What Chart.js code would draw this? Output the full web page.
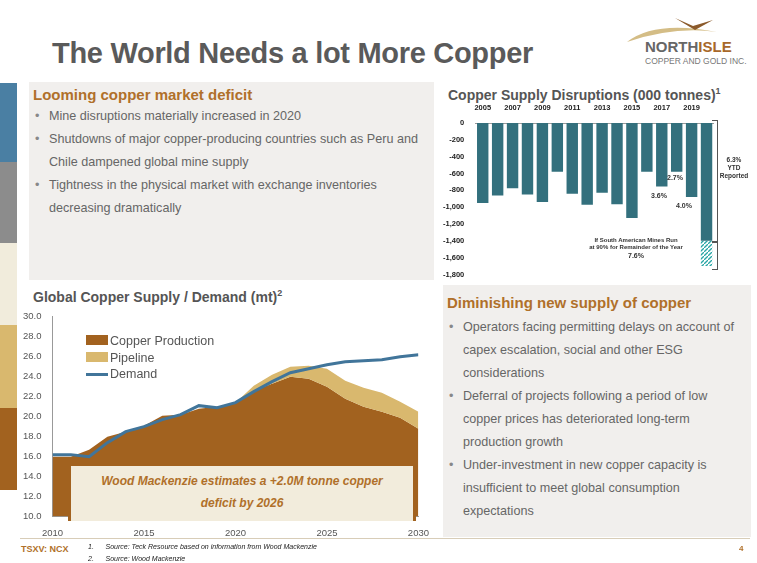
<!DOCTYPE html>
<html><head><meta charset="utf-8">
<script src="https://cdn.jsdelivr.net/npm/chart.js@4"></script>
<style>
body{margin:0;width:757px;height:563px;position:relative;background:#fff;font-family:Arial,"Liberation Sans",sans-serif;overflow:hidden}
.abs{position:absolute}
.panel{background:#f1efed}
.h2{color:#b0702a;font-weight:bold;font-size:15px}
ul{margin:0;padding:0;list-style:none}
li{position:relative;padding-left:16px;color:#666;font-size:12.6px;line-height:23px}
li:before{content:"•";position:absolute;left:2px;color:#888}
</style></head><body>
<div class="abs" style="left:0;top:83px;width:17px;height:79px;background:#4a7fa3"></div>
<div class="abs" style="left:0;top:162px;width:17px;height:81px;background:#8c8c8c"></div>
<div class="abs" style="left:0;top:243px;width:17px;height:82px;background:#f1ecdc"></div>
<div class="abs" style="left:0;top:325px;width:17px;height:83px;background:#d9b86e"></div>
<div class="abs" style="left:0;top:408px;width:17px;height:82px;background:#a2621f"></div>

<div class="abs" style="left:52px;top:37px;font-size:29px;font-weight:bold;color:#5a5a5a;letter-spacing:-0.3px">The World Needs a lot More Copper</div>
<svg class="abs" style="left:625px;top:12px" width="95" height="32"><path d="M2 30 Q30 8 92 20 Q50 14 2 30Z" fill="#d4bd86"/><path d="M50 6 L68 14 L88 8 L70 18Z" fill="#8b5a2b"/></svg>
<div class="abs" style="left:645px;top:38px;font-size:15px;font-weight:bold;color:#666">NORTH<span style="color:#a8682a">ISLE</span></div>
<div class="abs" style="left:645px;top:56px;font-size:8.5px;color:#777">COPPER AND GOLD INC.</div>

<div class="abs panel" style="left:29px;top:82px;width:405px;height:198px"></div>
<div class="abs h2" style="left:33px;top:86px">Looming copper market deficit</div>
<ul class="abs" style="left:33px;top:105px;width:395px">
<li>Mine disruptions materially increased in 2020</li>
<li>Shutdowns of major copper-producing countries such as Peru and Chile dampened global mine supply</li>
<li>Tightness in the physical market with exchange inventories decreasing dramatically</li>
</ul>

<div class="abs panel" style="left:443px;top:285px;width:308px;height:252px"></div>
<div class="abs h2" style="left:447px;top:294px">Diminishing new supply of copper</div>
<ul class="abs" style="left:447px;top:316px;width:300px">
<li>Operators facing permitting delays on account of capex escalation, social and other ESG considerations</li>
<li>Deferral of projects following a period of low copper prices has deteriorated long-term production growth</li>
<li>Under-investment in new copper capacity is insufficient to meet global consumption expectations</li>
</ul>

<div class="abs" style="left:448px;top:86px;font-size:14px;font-weight:bold;color:#555">Copper Supply Disruptions (000 tonnes)<sup style="font-size:9px">1</sup></div>
<div class="abs" style="left:440px;top:100px;width:274px;height:182px"><canvas id="bars"></canvas></div>
<div class="abs" style="left:712px;top:120px;width:5px;height:121px;border:1px solid #555;border-left:none"></div>
<div class="abs" style="left:712px;top:241px;width:5px;height:27px;border:1px solid #555;border-left:none"></div>
<div class="abs" style="left:712px;top:156px;width:44px;text-align:center;font-size:6.5px;font-weight:bold;color:#333;line-height:8px">6.3%<br>YTD<br>Reported</div>
<div class="abs" style="left:667px;top:174px;font-size:7px;font-weight:bold;color:#333">2.7%</div>
<div class="abs" style="left:651px;top:192px;font-size:7px;font-weight:bold;color:#333">3.6%</div>
<div class="abs" style="left:676px;top:202px;font-size:7px;font-weight:bold;color:#333">4.0%</div>
<div class="abs" style="left:576px;top:237px;width:120px;text-align:center;font-size:6px;font-weight:bold;color:#333;line-height:7px">If South American Mines Run<br>at 90% for Remainder of the Year<br><span style="font-size:7px;line-height:10px">7.6%</span></div>

<div class="abs" style="left:33px;top:288px;font-size:14px;font-weight:bold;color:#555">Global Copper Supply / Demand (mt)<sup style="font-size:9px">2</sup></div>
<div class="abs" style="left:20px;top:308px;width:412px;height:234px"><canvas id="area"></canvas></div>
<div class="abs" style="left:86px;top:333px;font-size:12.5px;color:#555;line-height:16.5px">
<div><span style="display:inline-block;width:22px;height:10px;background:#a2621f;margin-right:2px"></span>Copper Production</div>
<div><span style="display:inline-block;width:22px;height:10px;background:#d9b86e;margin-right:2px"></span>Pipeline</div>
<div><span style="display:inline-block;width:22px;height:3px;background:#41759a;vertical-align:middle;margin-right:2px"></span>Demand</div>
</div>
<div class="abs" style="left:68px;top:463px;width:342px;height:51px;background:#f2ecdc;border:3px solid #a2621f;border-bottom:none;text-align:center;font-size:12px;font-weight:bold;font-style:italic;color:#b0702a;line-height:22px;padding-top:4px">Wood Mackenzie estimates a +2.0M tonne copper<br>deficit by 2026</div>

<div class="abs" style="left:20px;top:538px;width:730px;border-top:1px solid #d8cdb8"></div>
<div class="abs" style="left:21px;top:544px;font-size:9px;font-weight:bold;color:#b0702a">TSXV: NCX</div>
<div class="abs" style="left:88px;top:541px;font-size:7px;font-style:italic;color:#222;line-height:12px">1.&nbsp;&nbsp;&nbsp;&nbsp;&nbsp;&nbsp;Source: Teck Resource based on information from Wood Mackenzie<br>2.&nbsp;&nbsp;&nbsp;&nbsp;&nbsp;&nbsp;Source: Wood Mackenzie</div>
<div class="abs" style="left:739px;top:544px;font-size:8px;font-weight:bold;color:#b0702a">4</div>

<script>
const years = ['2005','2006','2007','2008','2009','2010','2011','2012','2013','2014','2015','2016','2017','2018','2019','2020'];
const disruptions = [-950,-860,-775,-850,-940,-580,-840,-970,-830,-965,-1130,-580,-755,-580,-880,-1400];
const potentialExtra = [0,0,0,0,0,0,0,0,0,0,0,0,0,0,0,-300];

const supplyYears = [2010,2011,2012,2013,2014,2015,2016,2017,2018,2019,2020,2021,2022,2023,2024,2025,2026,2027,2028,2029,2030];
const production = [16.0,16.0,16.7,18.0,18.5,19.1,20.1,20.2,20.8,21.0,21.4,22.6,23.3,24.0,23.8,23.0,21.8,21.0,20.5,19.9,18.8];
const pipelineTop = [16.0,16.0,16.7,18.0,18.5,19.1,20.1,20.2,20.8,21.0,21.4,23.1,24.2,25.0,25.1,24.8,23.6,22.9,22.4,21.5,20.5];
const demand = [16.2,16.2,16.0,17.4,18.5,19.0,19.7,20.2,21.1,20.9,21.4,22.5,23.5,24.4,24.8,25.2,25.5,25.6,25.7,26.0,26.2];

function hatch() {
    const c = document.createElement('canvas'); c.width = 4; c.height = 4;
    const g = c.getContext('2d');
    g.strokeStyle = '#2aa6a6'; g.lineWidth = 1.3;
    g.beginPath(); g.moveTo(0,4); g.lineTo(4,0); g.stroke();
    return g.createPattern(c, 'repeat');
}

const tickFont = { family: 'Arial', size: 7.5, weight: 'bold' };
new Chart(document.getElementById('bars'), {
    type: 'bar',
    data: { labels: years, datasets: [
        { data: disruptions, backgroundColor: '#33707d', stack: 's', barPercentage: 0.85, categoryPercentage: 0.9 },
        { data: potentialExtra, backgroundColor: hatch(), stack: 's', barPercentage: 0.85, categoryPercentage: 0.9 }
    ]},
    options: {
        responsive: true, maintainAspectRatio: false, animation: false,
        layout: { padding: { bottom: 2 } },
        plugins: { legend: { display: false }, tooltip: { enabled: false } },
        scales: {
            x: { position: 'top', stacked: true, grid: { display: false }, border: { color: '#999' },
                ticks: { color: '#222', font: tickFont, maxRotation: 0, autoSkip: false,
                    callback: (v, i) => i % 2 === 0 && i < 15 ? years[i] : '' } },
            y: { stacked: true, min: -1800, max: 0, grid: { display: false }, border: { display: false },
                ticks: { stepSize: 200, color: '#222', font: tickFont,
                    callback: v => v.toLocaleString('en-US') } }
        }
    }
});

const pts = arr => arr.map((v, i) => ({ x: supplyYears[i], y: v }));
new Chart(document.getElementById('area'), {
    type: 'line',
    data: { datasets: [
        { data: pts(production), backgroundColor: '#a2621f', borderWidth: 0, pointRadius: 0, fill: 'origin', order: 3 },
        { data: pts(pipelineTop), backgroundColor: '#d9b86e', borderWidth: 0, pointRadius: 0, fill: '-1', order: 2 },
        { data: pts(demand), borderColor: '#41759a', borderWidth: 3, pointRadius: 0, fill: false, order: 1 }
    ]},
    options: {
        responsive: true, maintainAspectRatio: false, animation: false,
        plugins: { legend: { display: false }, tooltip: { enabled: false } },
        scales: {
            x: { type: 'linear', min: 2010, max: 2030, grid: { display: false }, border: { color: '#999' },
                ticks: { stepSize: 5, color: '#555', font: { family: 'Arial', size: 9.5 }, callback: v => String(v) } },
            y: { min: 10, max: 30, grid: { display: false }, border: { color: '#999' },
                ticks: { stepSize: 2, color: '#555', font: { family: 'Arial', size: 9.5 }, callback: v => v.toFixed(1) } }
        }
    }
});
</script>
</body></html>
